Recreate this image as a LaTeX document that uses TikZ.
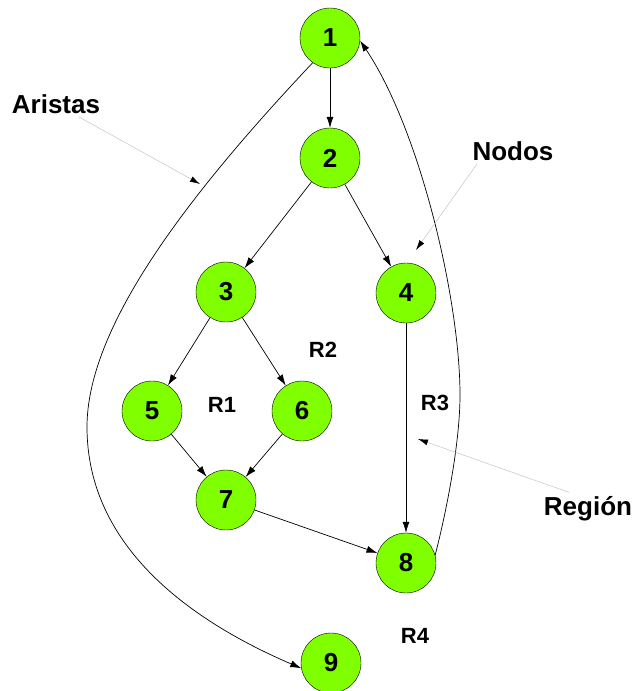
\documentclass[tikz,border=0pt]{standalone}
\usepackage{fontspec}
\setmainfont{Liberation Sans}
\usetikzlibrary{arrows.meta}

\begin{document}
\begin{tikzpicture}[x=1pt,y=-1pt,
  vertex/.style={circle,draw=black,fill=limegreen,minimum size=60pt,inner sep=0pt,
    font=\fontsize{26}{28}\selectfont\bfseries},
  edge/.style={-{Latex[length=11pt,width=7pt]},line width=0.7pt},
  pointer/.style={-{Latex[color=black,length=10pt,width=6pt]},draw=pointergray,line width=0.5pt},
  tag/.style={anchor=base,font=\fontsize{26}{28}\selectfont\bfseries},
  region/.style={anchor=base,font=\fontsize{22}{24}\selectfont\bfseries}]
\definecolor{limegreen}{HTML}{80FF00}
\definecolor{pointergray}{HTML}{C4C4C4}
\useasboundingbox (0,0) rectangle (633,691);
  \foreach \n/\x/\y in {1/330/38,2/330/158,3/226/292,4/406/293,5/152/411,
    6/302/411,7/226/500,8/406/563,9/331/663}
  {  \node [vertex] (n\n) at (\x,\y) {\n};}
  \foreach \a/\b in {1/2,2/3,2/4,3/5,3/6,5/7,6/7,7/8,4/8}
  {  \draw [edge] (n\a) -- (n\b);}
% curved edges
\draw [edge] (n1.235) .. controls (187,196) and (87,327) .. (87,427)
  .. controls (87,547) and (191,621) .. (n9.190);
\draw [edge] (n8.15) .. controls (448,505) and (460,440) .. (460,395)
  .. controls (460,300) and (420,130) .. (n1.-5);
% labels
\node [tag] (aristas) at (56,113) {Aristas};
\node [tag] (nodos) at (513,160) {Nodos};
\node [tag] (regionlbl) at (588,515) {Región};
\node [region] (r1) at (222,412) {R1};
\node [region] (r2) at (323,357) {R2};
\node [region] (r3) at (435,410) {R3};
\node [region] (r4) at (415,643) {R4};
\coordinate (aristasT) at (200,184);
\coordinate (nodosT) at (416,250);
\coordinate (regionT) at (418,439);
\draw [pointer] (aristas.-30) -- (aristasT);
\draw [pointer] (nodos.200) -- (nodosT);
\draw [pointer] (regionlbl.140) -- (regionT);
\end{tikzpicture}
\end{document}
